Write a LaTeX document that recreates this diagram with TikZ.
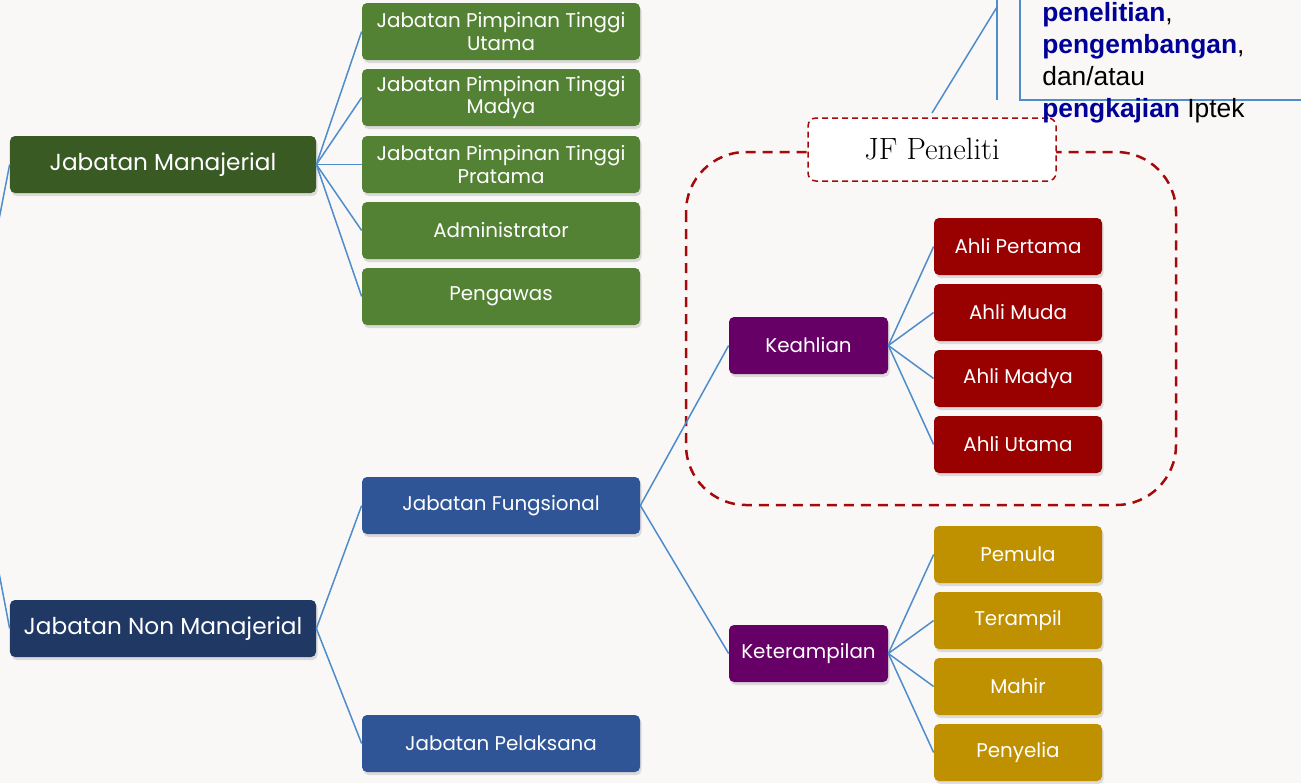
\documentclass[tikz,border=0pt]{standalone}
\usepackage{fontspec}
\usetikzlibrary{shadows}
\newfontfamily\gothic{Poppins}
\newfontfamily\arial{Liberation Sans}
\definecolor{paper}{HTML}{FAF8F7}
\definecolor{mgrgreen}{HTML}{3A5A24}
\definecolor{jptgreen}{HTML}{548235}
\definecolor{nonnavy}{HTML}{203864}
\definecolor{jfblue}{HTML}{2F5597}
\definecolor{jfpurple}{HTML}{660066}
\definecolor{ahlired}{HTML}{990000}
\definecolor{terampilgold}{HTML}{BF9000}
\definecolor{linkblue}{HTML}{4F8CCB}
\definecolor{dashred}{HTML}{A50A0A}
\definecolor{textblue}{HTML}{000099}
\begin{document}
\begin{tikzpicture}[x=0.2mm,y=-0.2mm,
	box/.style={rounded corners=1mm, minimum height=11.4mm, inner sep=0pt, text=white, align=center,
		font=\gothic\fontsize{11.3}{12.6}\selectfont,
		drop shadow={opacity=0.25, shadow xshift=0.3mm, shadow yshift=-0.6mm}},
	topbox/.style={box, minimum width=61.2mm, font=\gothic\fontsize{13.2}{14}\selectfont},
	midbox/.style={box, minimum width=55.6mm},
	subbox/.style={box, minimum width=31.8mm},
	lvlbox/.style={box, minimum width=33.6mm},
	link/.style={draw=linkblue, line width=0.3mm},
	calltext/.style={anchor=base west, inner sep=0pt, font=\arial\fontsize{15}{18}\selectfont}]
	\fill[paper] (0,0) rectangle (1301,783);
	\clip (0,0) rectangle (1301,783);

	\coordinate (root) at (-35,395);
	\node[topbox, fill=mgrgreen] (mgr) at (163,164.5) {Jabatan Manajerial};
	\node[topbox, fill=nonnavy] (nonmgr) at (163,628.5) {Jabatan Non Manajerial};

	\node[midbox, fill=jptgreen] (jpt1) at (501,31.5) {Jabatan Pimpinan Tinggi\\Utama};
	\node[midbox, fill=jptgreen] (jpt2) at (501,97.5) {Jabatan Pimpinan Tinggi\\Madya};
	\node[midbox, fill=jptgreen] (jpt3) at (501,164.5) {Jabatan Pimpinan Tinggi\\Pratama};
	\node[midbox, fill=jptgreen] (adm) at (501,230.5) {Administrator};
	\node[midbox, fill=jptgreen] (pgw) at (501,296.5) {Pengawas};
	\node[midbox, fill=jfblue] (fung) at (501,505.5) {Jabatan Fungsional};
	\node[midbox, fill=jfblue] (pel) at (501,743.5) {Jabatan Pelaksana};

	\draw[dashred, line width=0.5mm, dash pattern=on 2mm off 1.4mm, rounded corners=12mm] (686,152) rectangle (1176,505);
	\node[draw=dashred, fill=white, line width=0.3mm, dash pattern=on 1.2mm off 0.8mm, rounded corners=1.6mm,
		minimum width=49.6mm, minimum height=12.6mm, font=\fontsize{17.5}{20}\selectfont] (jfp) at (932,149.5) {JF Peneliti};

	\node[subbox, fill=jfpurple] (ahli) at (808.5,345.5) {Keahlian};
	\node[subbox, fill=jfpurple] (trp) at (808.5,653.5) {Keterampilan};

	\node[lvlbox, fill=ahlired] (a1) at (1018,246.5) {Ahli Pertama};
	\node[lvlbox, fill=ahlired] (a2) at (1018,312.5) {Ahli Muda};
	\node[lvlbox, fill=ahlired] (a3) at (1018,378.5) {Ahli Madya};
	\node[lvlbox, fill=ahlired] (a4) at (1018,444.5) {Ahli Utama};
	\node[lvlbox, fill=terampilgold] (t1) at (1018,554.5) {Pemula};
	\node[lvlbox, fill=terampilgold] (t2) at (1018,620.5) {Terampil};
	\node[lvlbox, fill=terampilgold] (t3) at (1018,686.5) {Mahir};
	\node[lvlbox, fill=terampilgold] (t4) at (1018,752.5) {Penyelia};

	\draw[link] (root) -- (mgr.west);
	\draw[link] (root) -- (nonmgr.west);
	\foreach \n in {jpt1,jpt2,jpt3,adm,pgw}
		\draw[link] (mgr.east) -- (\n.west);
	\draw[link] (nonmgr.east) -- (fung.west);
	\draw[link] (nonmgr.east) -- (pel.west);
	\draw[link] (fung.east) -- (ahli.west);
	\draw[link] (fung.east) -- (trp.west);
	\foreach \n in {a1,a2,a3,a4}
		\draw[link] (ahli.east) -- (\n.west);
	\foreach \n in {t1,t2,t3,t4}
		\draw[link] (trp.east) -- (\n.west);

	\coordinate (bar top) at (997,-10);
	\coordinate (bar end) at (997,100);
	\coordinate (call knee) at (997,7);
	\coordinate (call tip) at (932,113);
	\draw[link] (1020,-10) -- (1020,100) -- (1320,100);
	\draw[link] (bar top) -- (bar end);
	\draw[link] (call knee) -- (call tip);
	\node[calltext] (c1) at (1042,21) {{\bfseries\color{textblue}penelitian},};
	\node[calltext] (c2) at (1042,53) {{\bfseries\color{textblue}pengembangan},};
	\node[calltext] (c3) at (1042,85) {dan/atau};
	\node[calltext] (c4) at (1042,117) {{\bfseries\color{textblue}pengkajian} Iptek};
\end{tikzpicture}
\end{document}
